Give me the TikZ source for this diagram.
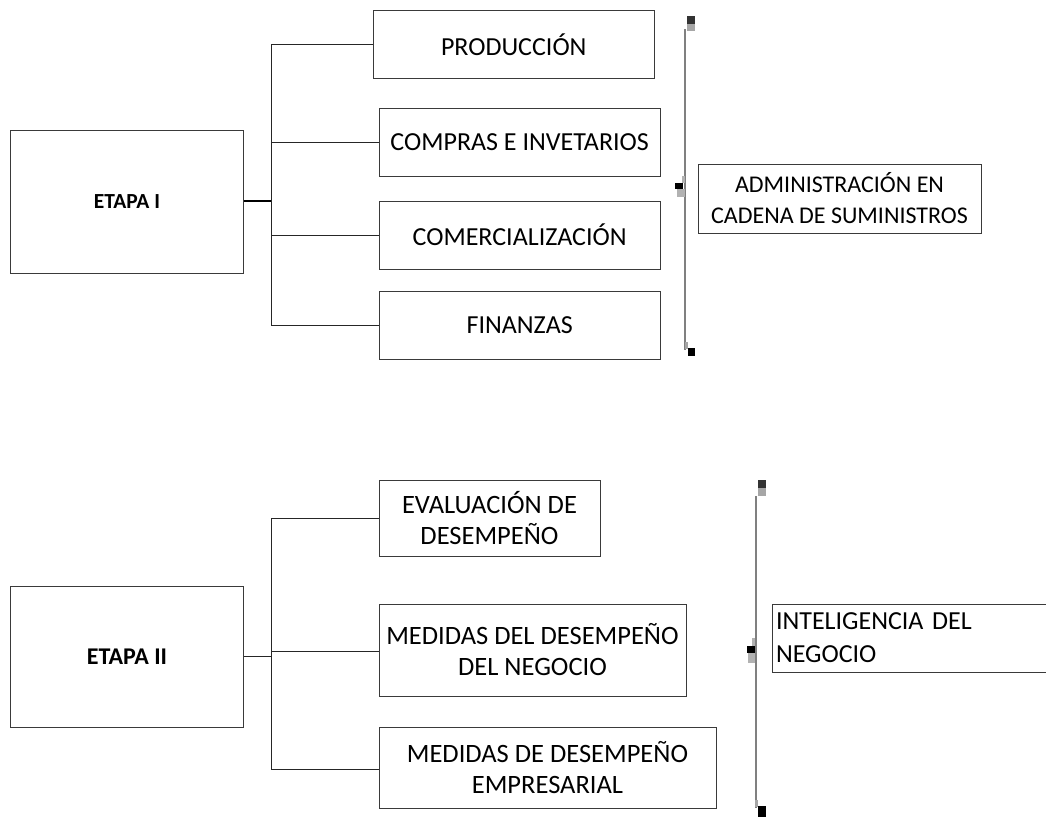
\documentclass[tikz,border=0pt]{standalone}
\usepackage{fontspec}
\setmainfont{Carlito}
\definecolor{boxline}{HTML}{3A3A3A}
\definecolor{brk}{HTML}{808080}
\definecolor{txt}{HTML}{000000}
\begin{document}
\begin{tikzpicture}[x=1pt,y=-1pt,
  box/.style={draw=boxline,line width=1pt,inner sep=0pt,align=center,text=txt,
    font=\fontsize{26}{31}\selectfont},
  stagebox/.style={draw=boxline,line width=1pt,inner sep=0pt,align=center,text=txt},
  link/.style={draw=black!85,line width=1pt},
  mainlink/.style={draw=black,line width=1.4pt},
  bracketline/.style={draw=brk,line width=2pt}]
\clip (0,0) rectangle (1046,817);
\fill[white] (0,0) rectangle (1046,817);

% ---------- ETAPA I ----------
\node[stagebox,minimum width=233pt,minimum height=142.5pt,font=\fontsize{21.5}{26}\selectfont\bfseries] (e1) at (127,201.75) {ETAPA I};
\node[box,minimum width=281.5pt,minimum height=68pt] (prod) at (513.75,44.5) {PRODUCCIÓN};
\node[box,minimum width=280.7pt,minimum height=68.2pt] (comp) at (519.65,142.6) {COMPRAS E INVETARIOS};
\node[box,minimum width=280.7pt,minimum height=68pt] (comer) at (519.65,235) {COMERCIALIZACIÓN};
\node[box,minimum width=280.7pt,minimum height=68.5pt] (fin) at (519.65,325.6) {FINANZAS};
\node[box,minimum width=283pt,minimum height=69pt,font=\fontsize{24}{31}\selectfont] (adm) at (839.5,198.5) {ADMINISTRACIÓN EN\\CADENA DE SUMINISTROS};

\coordinate (t1) at (271.7,200.8);
\draw[mainlink] (e1.east |- t1) -- (t1);
\draw[link] (prod.west) -- (prod.west -| t1) -- (fin.west -| t1) -- (fin.west);
\draw[link] (comp.west) -- (comp.west -| t1);
\draw[link] (comer.west) -- (comer.west -| t1);

% bracket I
\draw[bracketline] (685,29) -- (685,350);
\fill[black!80] (687,16) rectangle (695,24);
\fill[black!35] (687,24) rectangle (695,31);
\fill[black!35] (685,342) rectangle (688,349);
\fill[black] (688,348) rectangle (695,356);
\fill[black!30] (682,176) rectangle (685,183);
\fill[black] (675,182.7) rectangle (683,189.3);
\fill[black!30] (677,189.3) rectangle (685,197);

% ---------- ETAPA II ----------
\node[stagebox,minimum width=233pt,minimum height=141pt,font=\fontsize{24}{29}\selectfont\bfseries] (e2) at (127,656.5) {ETAPA II};
\node[box,minimum width=221pt,minimum height=76pt,font=\fontsize{26.5}{31}\selectfont] (eval) at (489.5,518) {EVALUACIÓN DE\\DESEMPEÑO};
\node[box,minimum width=307pt,minimum height=92pt,font=\fontsize{26.5}{31}\selectfont] (medn) at (532.5,650) {MEDIDAS DEL DESEMPEÑO\\DEL NEGOCIO};
\node[box,minimum width=337pt,minimum height=81pt,font=\fontsize{26.5}{31}\selectfont] (mede) at (547.5,767.5) {MEDIDAS DE DESEMPEÑO\\EMPRESARIAL};
\node[box,minimum width=290pt,minimum height=68pt,align=left,text width=282pt,inner xsep=4pt,font=\fontsize{26}{33}\selectfont] (intel) at (917,638) {INTELIGENCIA DEL\\NEGOCIO};

\coordinate (t2) at (271.7,656.7);
\draw[link] (e2.east |- t2) -- (t2);
\draw[link] (eval.west |- 0,518) -- (271.7,518) -- (271.7,769) -- (mede.west |- 0,769);
\draw[link] (medn.west |- 0,651) -- (271.7,651);

% bracket II
\draw[bracketline] (756,496) -- (756,808);
\fill[black!80] (758,480) rectangle (766,488);
\fill[black!35] (758,488) rectangle (766,496);
\fill[black!35] (755,800) rectangle (758,807);
\fill[black] (758,806) rectangle (766,817);
\fill[black!30] (752,638) rectangle (755,645.7);
\fill[black] (746.7,645.7) rectangle (754.5,653);
\fill[black!30] (748,653) rectangle (755,662.7);
\end{tikzpicture}
\end{document}
